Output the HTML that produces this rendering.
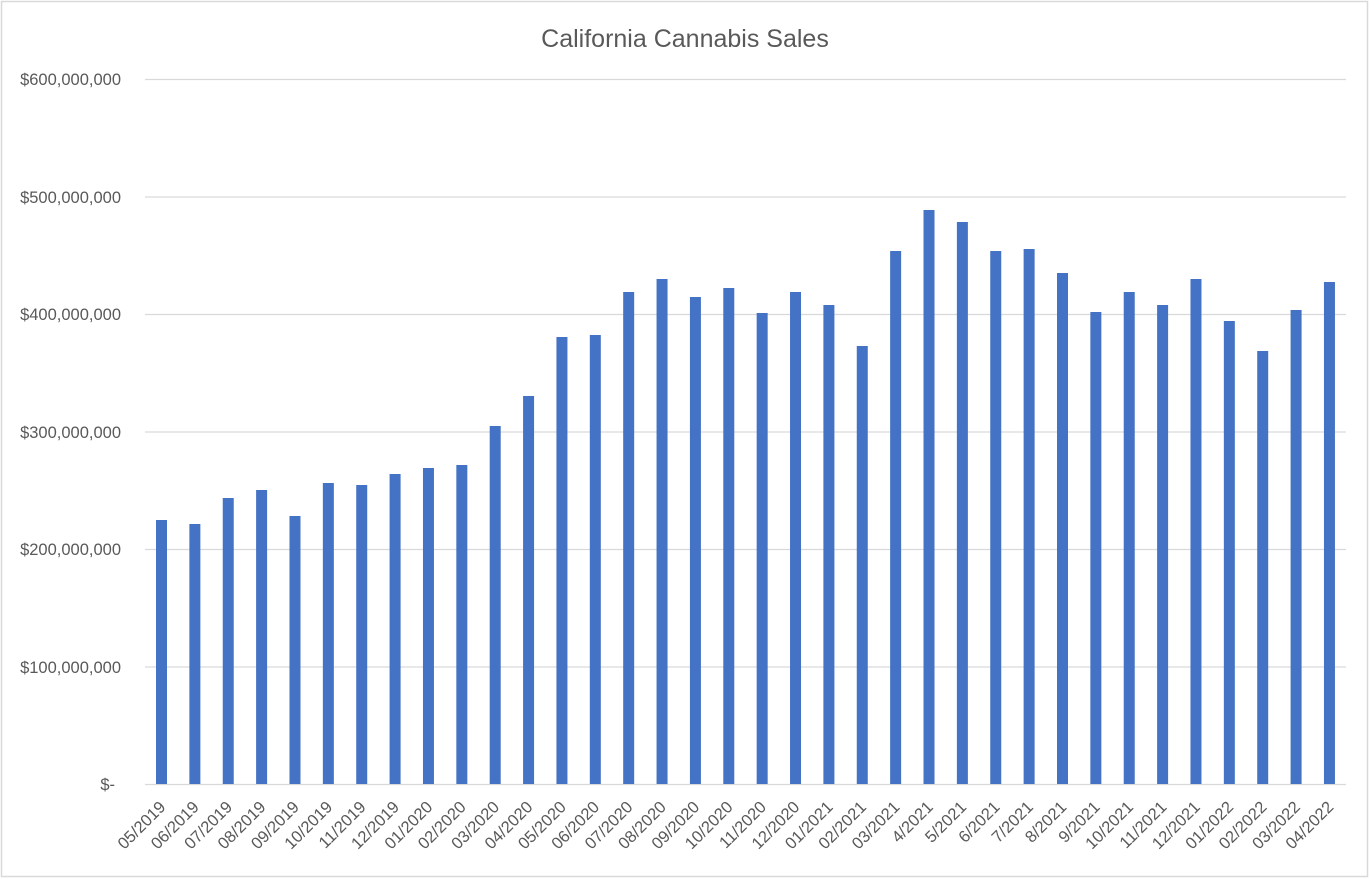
<!DOCTYPE html>
<html><head><style>
html,body{margin:0;padding:0;background:#fff;}
svg{display:block;font-family:"Liberation Sans",sans-serif;}
</style></head><body>
<svg width="1370" height="879" xmlns="http://www.w3.org/2000/svg">
<rect x="1.5" y="1.5" width="1366" height="875" fill="#fff" stroke="#d9d9d9" stroke-width="1.5"/>
<text x="685" y="47" text-anchor="middle" font-size="25" fill="#595959">California Cannabis Sales</text>
<g stroke="#d9d9d9" stroke-width="1.3">
<line x1="145" x2="1346" y1="79.5" y2="79.5"/>
<line x1="145" x2="1346" y1="197" y2="197"/>
<line x1="145" x2="1346" y1="314.5" y2="314.5"/>
<line x1="145" x2="1346" y1="432" y2="432"/>
<line x1="145" x2="1346" y1="549.5" y2="549.5"/>
<line x1="145" x2="1346" y1="667" y2="667"/>
<line x1="145" x2="1346" y1="784.5" y2="784.5"/>
</g>
<g font-size="16.5" fill="#595959" text-anchor="end">
<text x="121" y="85">$600,000,000</text>
<text x="121" y="203">$500,000,000</text>
<text x="121" y="320">$400,000,000</text>
<text x="121" y="438">$300,000,000</text>
<text x="121" y="555">$200,000,000</text>
<text x="121" y="673">$100,000,000</text>
<text x="115" y="790">$-</text>
</g>
<g id="bars" fill="#4472c4"></g>
<g id="labels" font-size="16.5" fill="#595959" text-anchor="end"></g>
<script>
var tops=[520,524,498,490,516,483,485,474,468,465,426,396,337,335,292,279,297,288,313,292,305,346,251,210,222,251,249,273,312,292,305,279,321,351,310,282];
var labs=["05/2019","06/2019","07/2019","08/2019","09/2019","10/2019","11/2019","12/2019","01/2020","02/2020","03/2020","04/2020","05/2020","06/2020","07/2020","08/2020","09/2020","10/2020","11/2020","12/2020","01/2021","02/2021","03/2021","4/2021","5/2021","6/2021","7/2021","8/2021","9/2021","10/2021","11/2021","12/2021","01/2022","02/2022","03/2022","04/2022"];
var b=document.getElementById("bars"),l=document.getElementById("labels"),ns="http://www.w3.org/2000/svg";
for(var i=0;i<36;i++){var x=156+i*33.37;
var r=document.createElementNS(ns,"rect");r.setAttribute("x",x.toFixed(2));r.setAttribute("y",tops[i]);r.setAttribute("width",11);r.setAttribute("height",784-tops[i]);b.appendChild(r);
var t=document.createElementNS(ns,"text");var cx=x+5.5+5,cy=808;t.setAttribute("transform","translate("+cx.toFixed(2)+","+cy+") rotate(-45)");t.textContent=labs[i];l.appendChild(t);}
</script>
</svg>
</body></html>
